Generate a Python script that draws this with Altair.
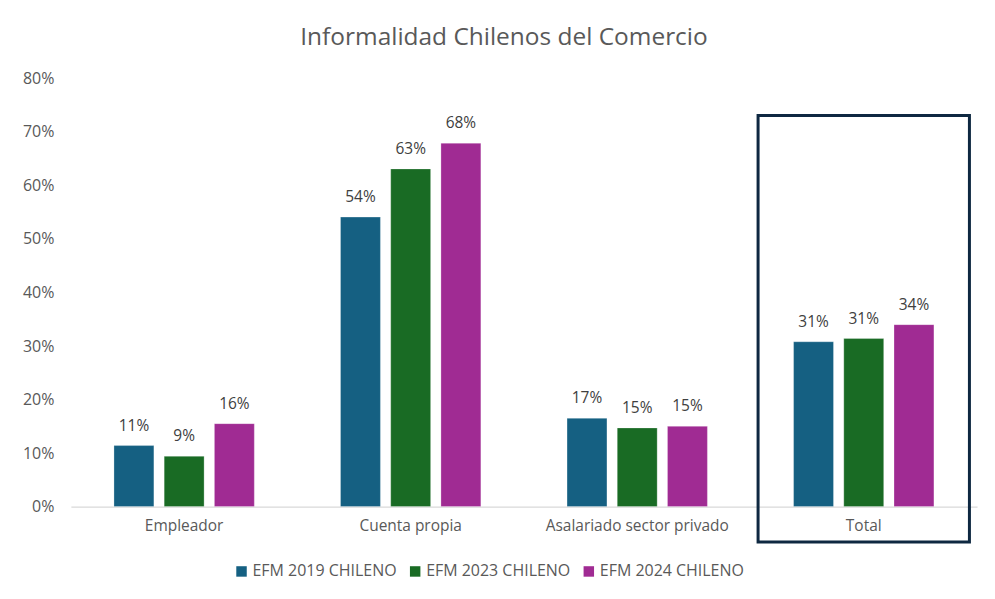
import altair as alt
import pandas as pd

categories = ["Empleador", "Cuenta propia", "Asalariado sector privado", "Total"]
series = ["EFM 2019 CHILENO", "EFM 2023 CHILENO", "EFM 2024 CHILENO"]
v2019 = [0.114, 0.541, 0.165, 0.308]
v2023 = [0.094, 0.631, 0.147, 0.314]
v2024 = [0.155, 0.679, 0.150, 0.340]
colors = ["#156082", "#196B24", "#A02B93"]
y_ticks = [0.0, 0.1, 0.2, 0.3, 0.4, 0.5, 0.6, 0.7, 0.8]
highlight_cat = ["Total"]
highlight_top = [0.731]
highlight_bottom = [-0.066]

FONT = "Open Sans"
GREY = "#595959"

rows = []
for cat, a, b, c in zip(categories, v2019, v2023, v2024):
    for s, v in zip(series, (a, b, c)):
        rows.append({"categoria": cat, "serie": s, "valor": v})
df = pd.DataFrame(rows)
box_df = pd.DataFrame({"categoria": highlight_cat, "top": highlight_top, "bottom": highlight_bottom})

x_enc = alt.X(
    "categoria:N",
    scale=alt.Scale(domain=categories, paddingInner=0.067, paddingOuter=0.0335),
    axis=alt.Axis(
        title=None, labelAngle=0, labelFont=FONT, labelFontSize=15.5, labelColor=GREY,
        ticks=False, labelPadding=12, labelLimit=0, domainColor="#D9D9D9", domainWidth=1.2,
    ),
)
xoff = alt.XOffset(
    "serie:N",
    scale=alt.Scale(domain=series, paddingInner=0.205, paddingOuter=0.707),
)
y_scale = alt.Scale(domain=[0, 0.8], nice=False)

bars = alt.Chart(df).mark_bar(stroke="white", strokeOpacity=0.35, strokeWidth=0.8).encode(
    x=x_enc,
    xOffset=xoff,
    y=alt.Y(
        "valor:Q", scale=y_scale,
        axis=alt.Axis(
            title=None, values=y_ticks, format=".0%", grid=False, domain=False, ticks=False,
            labelFont=FONT, labelFontSize=16, labelColor=GREY, labelPadding=17,
        ),
    ),
    color=alt.Color(
        "serie:N",
        scale=alt.Scale(domain=series, range=colors),
        legend=alt.Legend(
            title=None, orient="none", direction="horizontal", legendX=163, legendY=486,
            symbolType="square", symbolSize=110, symbolStrokeWidth=0,
            labelFont=FONT, labelFontSize=16, labelColor=GREY, labelOffset=3,
            columnPadding=10, labelLimit=0,
        ),
    ),
)

labels = alt.Chart(df).mark_text(
    font=FONT, fontSize=15.5, color="#404040", baseline="alphabetic", dy=-15
).encode(
    x=x_enc,
    xOffset=xoff,
    y=alt.Y("valor:Q", scale=y_scale),
    text=alt.Text("valor:Q", format=".0%"),
)

box = alt.Chart(box_df).mark_rect(filled=False, stroke="#0E2841", strokeWidth=3).encode(
    x=alt.X("categoria:N"),
    y=alt.Y("top:Q", scale=y_scale),
    y2=alt.Y2("bottom:Q"),
)

chart = (
    alt.layer(bars, labels, box)
    .properties(
        width=908,
        height=429,
        autosize=alt.AutoSizeParams(type="none"),
        padding={"left": 63, "top": 70, "right": 10, "bottom": 90},
        title=alt.TitleParams(
            "Informalidad Chilenos del Comercio", font=FONT, fontSize=24.5, fontWeight="normal",
            color=GREY, anchor="middle", dx=-20, offset=20,
        ),
        background="white",
    )
    .configure_view(stroke=None)
)

chart.save("out.html", embed_options={"renderer": "svg", "actions": False})
